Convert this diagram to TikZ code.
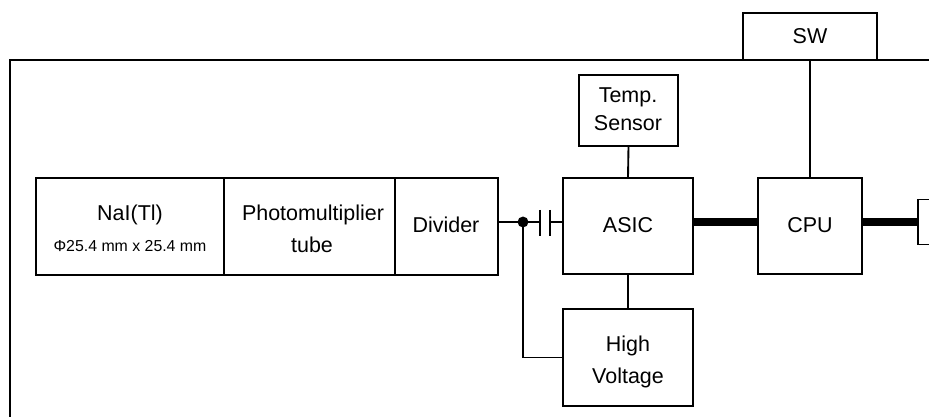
\documentclass[tikz,border=0pt]{standalone}
\usepackage{fontspec}
\setmainfont{Liberation Sans}
\tikzset{
  x=0.75pt,y=-0.75pt,
  box/.style 2 args={draw=black,line width=1.4pt,fill=white,inner sep=0pt,outer sep=0pt,align=center,
    minimum width=#1*0.75pt,minimum height=#2*0.75pt,font=\fontsize{16.1}{21.5}\selectfont},
  label/.style={anchor=base,inner sep=0pt,font=\fontsize{16.1}{21.5}\selectfont},
  smalllabel/.style={anchor=base,inner sep=0pt,font=\fontsize{11.9}{14}\selectfont},
  wire/.style={draw=black,line width=1.4pt},
  bus/.style={draw=black,line width=6pt},
  frameline/.style={draw=black,line width=1.3pt},
  plate/.style={draw=black,line width=1.4pt},
  dotnode/.style={circle,fill=black,inner sep=0pt,minimum size=8.2pt,outer sep=0pt},
}
\begin{document}
\begin{tikzpicture}
\useasboundingbox (0,0) rectangle (929,417);
\coordinate (fa) at (10,430);
\coordinate (fb) at (10,60);
\coordinate (fc) at (940,60);
\draw[frameline] (fa) -- (fb) -- (fc);
\node[box={188}{97}] (nai) at (130,226.5) {};
\node[label] (naitext) at (130,220.7) {NaI(Tl)};
\node[smalllabel] (naisize) at (130,251.7) {Φ25.4 mm x 25.4 mm};
\node[box={171}{97}] (pmt) at (309.5,226.5) {};
\node[label] (pmttext) at (313,220.7) {Photomultiplier};
\node[label] (pmttube) at (312,252.5) {tube};
\node[box={103}{97}] (div) at (446.5,226.5) {};
\node[label] (divtext) at (446,233) {Divider};
\node[box={130}{96}] (asic) at (628,226) {};
\node[label] (asictext) at (628,232.7) {ASIC};
\node[box={104}{96}] (cpu) at (810,226) {};
\node[label] (cputext) at (810,232.7) {CPU};
\node[box={99}{71}] (temp) at (628.5,110.5) {};
\node[label] (temptext) at (628,103) {Temp.};
\node[label] (sensortext) at (628,131) {Sensor};
\node[box={130}{97}] (hv) at (628,357.5) {};
\node[label] (hvhigh) at (628,351) {High};
\node[label] (hvvolt) at (628,383) {Voltage};
\node[box={134}{47}] (sw) at (810,36.5) {};
\node[label] (swtext) at (810,44) {SW};
\node[box={60}{45}] (ext) at (948,222) {};
\node[dotnode] (jn) at (523,222) {};
\coordinate (capl) at (540,222);
\coordinate (capr) at (550,222);
\coordinate (capla) at (540,210);
\coordinate (caplb) at (540,236);
\coordinate (capra) at (550,210);
\coordinate (caprb) at (550,236);
\draw[wire] (div.east |- jn) -- (jn);
\draw[wire] (jn) -- (capl);
\draw[plate] (capla) -- (caplb);
\draw[plate] (capra) -- (caprb);
\draw[wire] (capr) -- (asic.west |- capr);
\draw[wire] (jn) |- (hv.west);
\draw[wire] (asic.north) -- (temp.south);
\draw[wire] (asic.south) -- (hv.north);
\draw[wire] (cpu.north) -- (sw.south);
\draw[bus] (asic.east |- jn) -- (cpu.west |- jn);
\draw[bus] (cpu.east |- jn) -- (ext.west);
\end{tikzpicture}
\end{document}
